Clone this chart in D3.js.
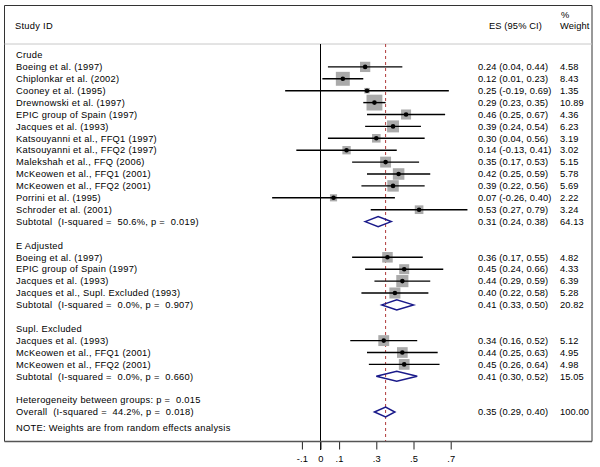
<!DOCTYPE html>
<html><head><meta charset="utf-8">
<script src="https://cdn.jsdelivr.net/npm/d3@7"></script>
<style>
body{margin:0;background:#fff}
text{font-family:"Liberation Sans",Arial,Helvetica,sans-serif;font-size:9.3px;fill:#000;white-space:pre;letter-spacing:0.12px}
text.lab{letter-spacing:0.28px}
</style></head><body>
<svg id="chart" width="600" height="467"></svg>
<script>
// ---- data ----
const groupLabels = ["Crude", "E Adjusted", "Supl. Excluded"];
const studyNames = [
  "Boeing et al. (1997)", "Chiplonkar et al. (2002)", "Cooney et al. (1995)", "Drewnowski et al. (1997)",
  "EPIC group of Spain (1997)", "Jacques et al. (1993)", "Katsouyanni et al., FFQ1 (1997)",
  "Katsouyanni et al., FFQ2 (1997)", "Malekshah et al., FFQ (2006)", "McKeowen et al., FFQ1 (2001)",
  "McKeowen et al., FFQ2 (2001)", "Porrini et al. (1995)", "Schroder et al. (2001)",
  "Boeing et al. (1997)", "EPIC group of Spain (1997)", "Jacques et al. (1993)",
  "Jacques et al., Supl. Excluded (1993)",
  "Jacques et al. (1993)", "McKeowen et al., FFQ1 (2001)", "McKeowen et al., FFQ2 (2001)"
];
const studyGroup = [0,0,0,0,0,0,0,0,0,0,0,0,0, 1,1,1,1, 2,2,2];
const studyES = [0.24,0.12,0.25,0.29,0.46,0.39,0.30,0.14,0.35,0.42,0.39,0.07,0.53, 0.36,0.45,0.44,0.40, 0.34,0.44,0.45];
const studyLo = [0.04,0.01,-0.19,0.23,0.25,0.24,0.04,-0.13,0.17,0.25,0.22,-0.26,0.27, 0.17,0.24,0.29,0.22, 0.16,0.25,0.26];
const studyHi = [0.44,0.23,0.69,0.35,0.67,0.54,0.56,0.41,0.53,0.59,0.56,0.40,0.79, 0.55,0.66,0.59,0.58, 0.52,0.63,0.64];
const studyWeight = [4.58,8.43,1.35,10.89,4.36,6.23,3.19,3.02,5.15,5.78,5.69,2.22,3.24, 4.82,4.33,6.39,5.28, 5.12,4.95,4.98];

const subtotalLabels = ["Subtotal  (I-squared =  50.6%, p =  0.019)", "Subtotal  (I-squared =  0.0%, p =  0.907)", "Subtotal  (I-squared =  0.0%, p =  0.660)"];
const subtotalES = [0.31, 0.41, 0.41];
const subtotalLo = [0.24, 0.33, 0.30];
const subtotalHi = [0.38, 0.50, 0.52];
const subtotalWeight = [64.13, 20.82, 15.05];

const heterogeneityLabel = "Heterogeneity between groups: p =  0.015";
const overallLabel = "Overall  (I-squared =  44.2%, p =  0.018)";
const overallES = 0.35, overallLo = 0.29, overallHi = 0.40, overallWeight = 100.00;
const noteLabel = "NOTE: Weights are from random effects analysis";

const tickValues = [-0.1, 0, 0.1, 0.3, 0.5, 0.7];
const tickLabels = ["-.1", "0", ".1", ".3", ".5", ".7"];

// ---- build rows ----
const rows = [];
groupLabels.forEach((g, gi) => {
  if (gi > 0) rows.push({type: "blank"});
  rows.push({type: "group", label: g});
  studyNames.forEach((n, i) => {
    if (studyGroup[i] === gi) rows.push({type: "study", label: n, es: studyES[i], lo: studyLo[i], hi: studyHi[i], w: studyWeight[i]});
  });
  rows.push({type: "sub", label: subtotalLabels[gi], es: subtotalES[gi], lo: subtotalLo[gi], hi: subtotalHi[gi], w: subtotalWeight[gi]});
});
rows.push({type: "blank"});
rows.push({type: "het", label: heterogeneityLabel});
rows.push({type: "sub", label: overallLabel, es: overallES, lo: overallLo, hi: overallHi, w: overallWeight});
rows.forEach((r, i) => r.i = i);

// ---- scales ----
const x = d3.scaleLinear().domain([-0.1, 0.7]).range([301.9, 450.7]);
const y = d3.scaleLinear().domain([0, rows.length - 1]).range([55, 412]);
const sq = d3.scaleSqrt().domain([0, 100]).range([0, 48]);

const svg = d3.select("#chart");
const L = 4.5, R = 592, T = 5.5, B = 441.5;

// frame
svg.append("line").attr("x1", L).attr("x2", L).attr("y1", T).attr("y2", B).attr("stroke", "#333");
svg.append("line").attr("x1", R).attr("x2", R).attr("y1", T).attr("y2", B).attr("stroke", "#333");
svg.append("line").attr("x1", L).attr("x2", R).attr("y1", T).attr("y2", T).attr("stroke", "#333");
svg.append("line").attr("x1", L).attr("x2", R).attr("y1", 44).attr("y2", 44).attr("stroke", "#c8c8c8");

// headers
svg.append("text").attr("class", "lab").attr("x", 15).attr("y", 29).text("Study ID");
svg.append("text").attr("x", 489).attr("y", 29).text("ES (95% CI)");
svg.append("text").attr("x", 561).attr("y", 18).text("%");
svg.append("text").attr("x", 560).attr("y", 29).text("Weight");

// null line and overall dashed line
svg.append("line").attr("x1", x(0)).attr("x2", x(0)).attr("y1", 44).attr("y2", 450).attr("stroke", "#000");
svg.append("line").attr("x1", x(overallES)).attr("x2", x(overallES)).attr("y1", 44).attr("y2", B)
  .attr("stroke", "#b03a3a").attr("stroke-dasharray", "3,3");

// axis
const ax = svg.append("g").attr("transform", `translate(0,${B})`)
  .call(d3.axisBottom(x).tickValues(tickValues).tickSize(8).tickFormat((d, i) => tickLabels[i]));
ax.select(".domain").remove();
ax.selectAll("line").attr("stroke", "#222");
ax.selectAll("text").attr("y", 14).style("font-size", "9.3px").style("font-family", '"Liberation Sans",Arial,sans-serif');
svg.append("line").attr("x1", L).attr("x2", R).attr("y1", B).attr("y2", B).attr("stroke", "#555").attr("stroke-width", 1.5);

// labels
const labelRows = rows.filter(r => r.type !== "blank");
svg.selectAll("text.lab.row").data(labelRows).join("text").attr("class", "lab row")
  .attr("x", 16).attr("y", r => y(r.i)).attr("dy", "0.35em").text(r => r.label);

// effect rows
const effRows = rows.filter(r => r.type === "study" || r.type === "sub");
svg.selectAll("text.es").data(effRows).join("text").attr("class", "es")
  .attr("x", 478).attr("y", r => y(r.i)).attr("dy", "0.35em")
  .text(r => `${r.es.toFixed(2)} (${r.lo.toFixed(2)}, ${r.hi.toFixed(2)})`);
svg.selectAll("text.wt").data(effRows).join("text").attr("class", "wt")
  .attr("x", 560).attr("y", r => y(r.i)).attr("dy", "0.35em")
  .text(r => r.w.toFixed(2));

const studies = rows.filter(r => r.type === "study");
svg.selectAll("rect.box").data(studies).join("rect").attr("class", "box")
  .attr("x", r => x(r.es) - sq(r.w) / 2).attr("y", r => y(r.i) - sq(r.w) / 2)
  .attr("width", r => sq(r.w)).attr("height", r => sq(r.w)).attr("fill", "#aaaaaa");
svg.selectAll("line.ci").data(studies).join("line").attr("class", "ci")
  .attr("x1", r => x(r.lo)).attr("x2", r => x(r.hi)).attr("y1", r => y(r.i)).attr("y2", r => y(r.i))
  .attr("stroke", "#000").attr("stroke-width", 1.4);
svg.selectAll("circle.pt").data(studies).join("circle").attr("class", "pt")
  .attr("cx", r => x(r.es)).attr("cy", r => y(r.i)).attr("r", 2.3).attr("fill", "#000");

const subs = rows.filter(r => r.type === "sub");
svg.selectAll("path.dia").data(subs).join("path").attr("class", "dia")
  .attr("d", r => `M${x(r.lo)},${y(r.i)}L${x(r.es)},${y(r.i) - 5}L${x(r.hi)},${y(r.i)}L${x(r.es)},${y(r.i) + 5}Z`)
  .attr("fill", "none").attr("stroke", "#1a1a8a").attr("stroke-width", 1.5);

// note
svg.append("text").attr("class", "lab").attr("x", 16).attr("y", 428).attr("dy", "0.35em").text(noteLabel);
</script>
</body></html>
